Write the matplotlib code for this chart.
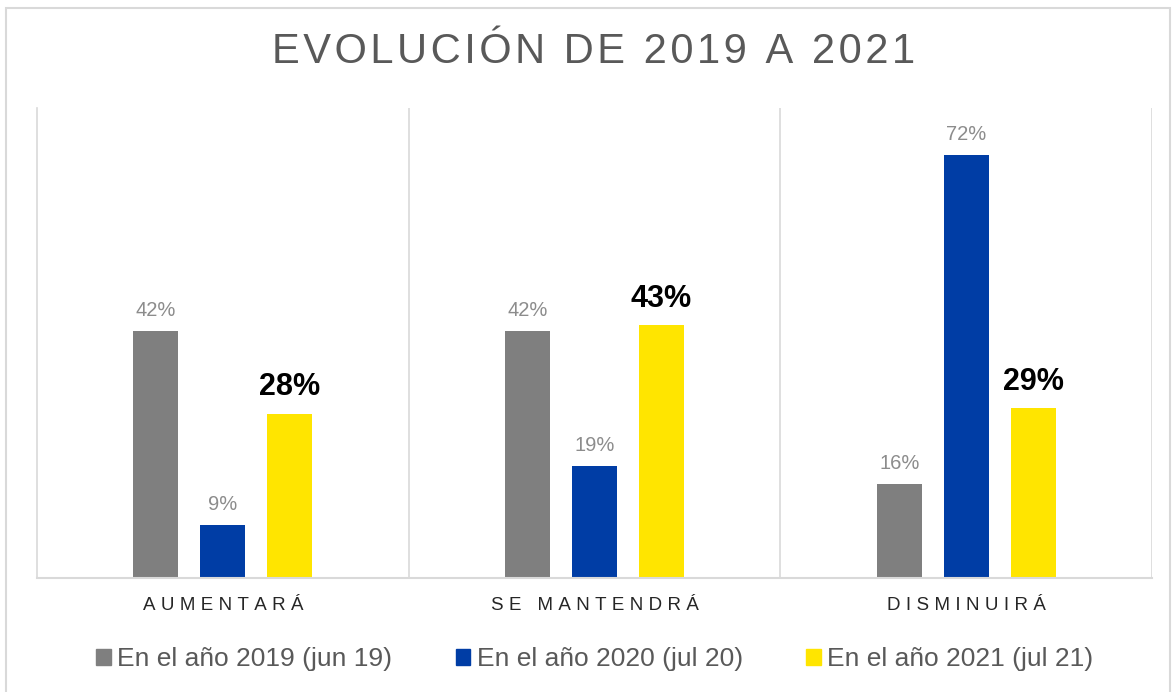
import numpy as np
import matplotlib.pyplot as plt
from matplotlib.patches import Rectangle, Patch

plt.rcParams['font.family'] = ['Liberation Sans', 'DejaVu Sans']

categories = ['AUMENTARÁ', 'SE MANTENDRÁ', 'DISMINUIRÁ']
series_names = ['En el año 2019 (jun 19)', 'En el año 2020 (jul 20)', 'En el año 2021 (jul 21)']
v2019 = [42, 42, 16]
v2020 = [9, 19, 72]
v2021 = [28, 43, 29]
colors = ['#7f7f7f', '#003da5', '#ffe500']


def spaced(s, sep='\u200a'):
    return sep.join(s)


fig = plt.figure(figsize=(11.73, 6.92), dpi=100)
ax = fig.add_axes([37 / 1173, 1 - 578 / 692, (1152 - 37) / 1173, (578 - 108) / 692])

# outer frame
fig.patches.append(Rectangle((6 / 1173, -0.01), 1164 / 1173, 1 - 8 / 692 + 0.01,
                             transform=fig.transFigure, fill=False,
                             edgecolor='#d9d9d9', linewidth=1.5))

x = np.arange(len(categories))
w = 0.121
step = 0.18
all_vals = [v2019, v2020, v2021]
for i, vals in enumerate(all_vals):
    bars = ax.bar(x + (i - 1) * step, vals, width=w, color=colors[i])
    for b, v in zip(bars, vals):
        if i == 2:
            ax.annotate(f'{v}%', (b.get_x() + b.get_width() / 2, v), xytext=(0, 8),
                        textcoords='offset points', ha='center', va='bottom',
                        fontsize=22, fontweight='bold', color='black')
        else:
            ax.annotate(f'{v}%', (b.get_x() + b.get_width() / 2, v), xytext=(0, 8),
                        textcoords='offset points', ha='center', va='bottom',
                        fontsize=14.5, color='#8c8c8c')

ax.set_xlim(-0.5, 2.5)
ax.set_ylim(0, 80)
for sep_x in [0.5, 1.5, 2.5]:
    ax.axvline(sep_x, color='#d9d9d9', linewidth=1.2, zorder=0)
for side in ['top', 'right']:
    ax.spines[side].set_visible(False)
ax.spines['left'].set_color('#d9d9d9')
ax.spines['bottom'].set_color('#d9d9d9')
ax.spines['left'].set_linewidth(1.2)
ax.spines['bottom'].set_linewidth(1.5)
ax.set_yticks([])
ax.set_xticks(x)
ax.set_xticklabels([spaced(c, '\u2009\u200a') for c in categories], fontsize=13.5, color='#262626')
ax.tick_params(axis='x', length=0, pad=14)

fig.text(594 / 1173, 1 - 52 / 692, spaced('EVOLUCIÓN DE 2019 A 2021'), ha='center', va='center',
         fontsize=30, color='#595959')

handles = [Patch(color=c) for c in colors]
fig.legend(handles, series_names, loc='center', bbox_to_anchor=(595 / 1173, 1 - 659 / 692),
           ncol=3, frameon=False, fontsize=19, labelcolor='#595959',
           handlelength=0.55, handleheight=0.55, handletextpad=0.25, columnspacing=2.4)

fig.savefig('out.png', dpi=100)
